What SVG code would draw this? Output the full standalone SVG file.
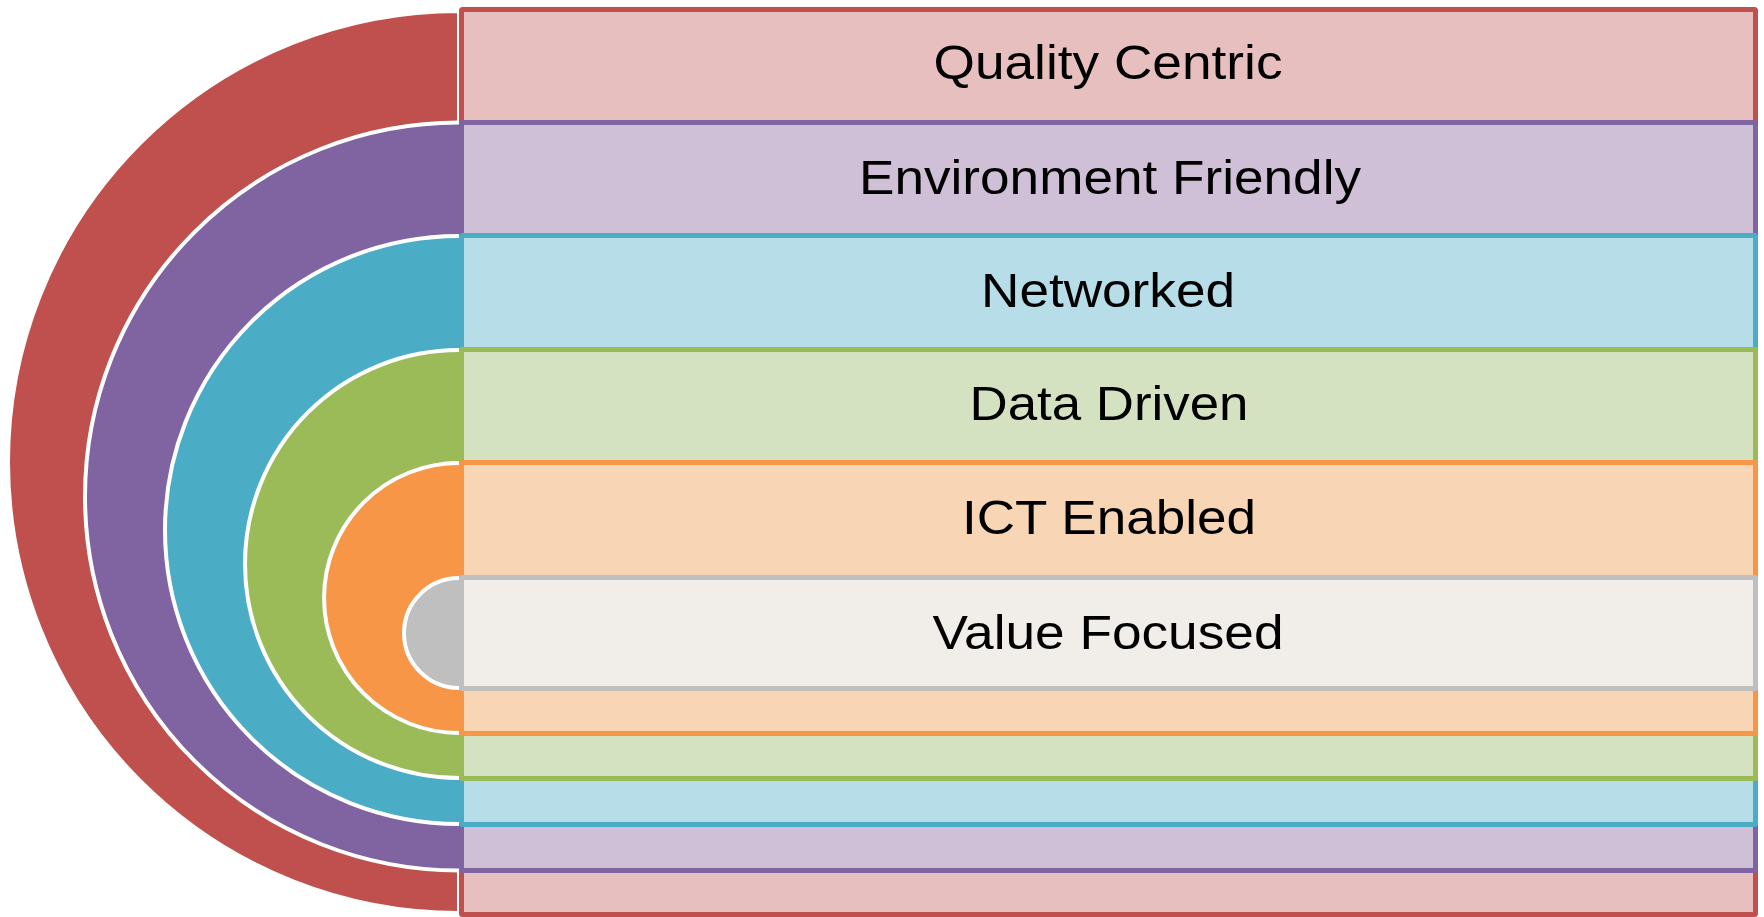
<svg xmlns="http://www.w3.org/2000/svg" width="1764" height="917" viewBox="0 0 1764 917">
  <style>
    .arc { stroke: #FFFFFF; stroke-width: 4; }
    .box { stroke-width: 5; }
    .lbl { font-family: "Liberation Sans", Arial, sans-serif; font-size: 48px; fill: #000000; text-anchor: middle; }
  </style>
  <rect x="0" y="0" width="1764" height="917" fill="#FFFFFF"/>
  <g id="quality-centric">
    <path class="arc" d="M 459 11 A 451 451 0 0 0 459 913 Z" fill="#C0504D" stroke="none"/>
    <rect class="box" x="461.5" y="9.5" width="1294" height="905" rx="1" fill="#E8BFBF" stroke="#C0504D"/>
    <text class="lbl" x="1108" y="79" textLength="349" lengthAdjust="spacingAndGlyphs">Quality Centric</text>
  </g>
  <g id="environment-friendly">
    <path class="arc" d="M 459 122.5 A 374 374 0 0 0 459 870.5" fill="#8064A2"/>
    <rect class="box" x="461.5" y="122.5" width="1294" height="748" rx="1" fill="#CFC0D7" stroke="#8064A2"/>
    <text class="lbl" x="1110" y="194" textLength="502" lengthAdjust="spacingAndGlyphs">Environment Friendly</text>
  </g>
  <g id="networked">
    <path class="arc" d="M 459 236 A 294 294 0 0 0 459 824" fill="#4BACC6"/>
    <rect class="box" x="461.5" y="235.5" width="1294" height="589" rx="1" fill="#B7DDE8" stroke="#4BACC6"/>
    <text class="lbl" x="1108" y="307" textLength="254" lengthAdjust="spacingAndGlyphs">Networked</text>
  </g>
  <g id="data-driven">
    <path class="arc" d="M 459 350 A 214 214 0 0 0 459 778" fill="#9BBB59"/>
    <rect class="box" x="461.5" y="349.5" width="1294" height="429" rx="1" fill="#D5E2C2" stroke="#9BBB59"/>
    <text class="lbl" x="1109" y="420" textLength="279" lengthAdjust="spacingAndGlyphs">Data Driven</text>
  </g>
  <g id="ict-enabled">
    <path class="arc" d="M 459 463 A 135 135 0 0 0 459 733" fill="#F79646"/>
    <rect class="box" x="461.5" y="462.5" width="1294" height="271" rx="1" fill="#F8D5B4" stroke="#F79646"/>
    <text class="lbl" x="1109" y="534" textLength="294" lengthAdjust="spacingAndGlyphs">ICT Enabled</text>
  </g>
  <g id="value-focused">
    <path class="arc" d="M 459 578 A 55 55 0 0 0 459 688" fill="#BFBFBF"/>
    <rect class="box" x="461.5" y="577.5" width="1294" height="111" rx="1" fill="#F1EEEA" stroke="#BFBFBF"/>
    <text class="lbl" x="1108" y="649" textLength="351" lengthAdjust="spacingAndGlyphs">Value Focused</text>
  </g>
  <g id="connectors"></g>
</svg>
